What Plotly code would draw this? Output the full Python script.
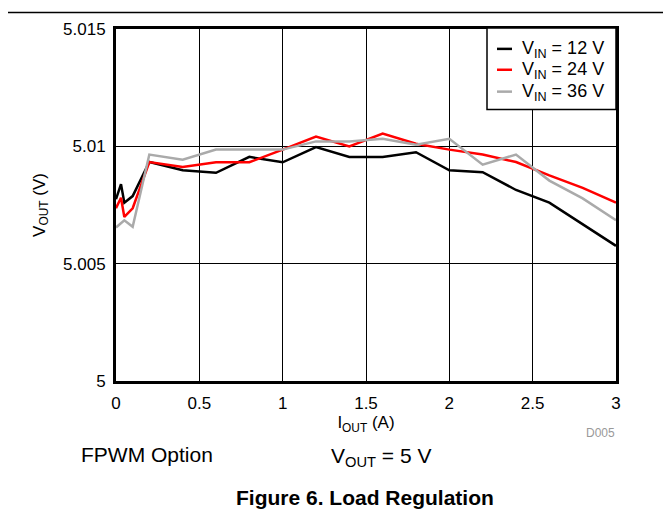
import plotly.graph_objects as go

iout_12 = [0, 0.03, 0.05, 0.1, 0.2, 0.4, 0.6, 0.8, 1.0, 1.2, 1.4, 1.6, 1.8, 2.0, 2.2, 2.4, 2.6, 2.8, 3.0]
vout_12 = [5.00775, 5.00839, 5.0076, 5.00788, 5.00933, 5.00898, 5.00887, 5.00955, 5.00932, 5.00997,
           5.00955, 5.00955, 5.00975, 5.00898, 5.0089, 5.00814, 5.0076, 5.00668, 5.00576]

iout_24 = [0, 0.03, 0.05, 0.1, 0.2, 0.4, 0.6, 0.8, 1.0, 1.2, 1.4, 1.6, 1.8, 2.0, 2.2, 2.4, 2.6, 2.8, 3.0]
vout_24 = [5.00736, 5.00781, 5.00699, 5.00736, 5.00933, 5.00912, 5.00932, 5.00932, 5.00986, 5.01042,
           5.0100, 5.01054, 5.01011, 5.00986, 5.00965, 5.00933, 5.00876, 5.00823, 5.0076]

iout_36 = [0, 0.05, 0.1, 0.2, 0.4, 0.6, 0.8, 1.0, 1.2, 1.4, 1.6, 1.8, 2.0, 2.2, 2.4, 2.6, 2.8, 3.0]
vout_36 = [5.00654, 5.00685, 5.00657, 5.00965, 5.00943, 5.00986, 5.00986, 5.00986, 5.01021, 5.01021,
           5.01032, 5.01007, 5.01032, 5.00922, 5.00965, 5.00854, 5.00778, 5.00685]

x_ticks = [0, 0.5, 1, 1.5, 2, 2.5, 3]
y_ticks = [5, 5.005, 5.01, 5.015]
y_tick_labels = ["5", "5.005", "5.01", "5.015"]

series_names = ["V<sub>IN</sub> = 12 V", "V<sub>IN</sub> = 24 V", "V<sub>IN</sub> = 36 V"]
series_colors = ["#000000", "#ff0000", "#aaaaaa"]
series_x = [iout_12, iout_24, iout_36]
series_y = [vout_12, vout_24, vout_36]

FAM = "Liberation Sans, Arial, sans-serif"
font = dict(family=FAM, color="#000000")

# page offset: the browser body has an 8px margin; plot area spans page x 116..616, y 27..381
def px(X):
    return (X - 116) / 500.0

def py(Y):
    return (381 - Y) / 354.0

fig = go.Figure()
for name, x, y, c in zip(series_names, series_x, series_y, series_colors):
    fig.add_trace(go.Scatter(x=x, y=y, mode="lines", name=name,
                             line=dict(color=c, width=2.5), showlegend=False))

fig.update_layout(
    width=655, height=503,
    margin=dict(l=108, r=47, t=19, b=130),
    paper_bgcolor="white", plot_bgcolor="white",
    font=dict(size=17, **font),
    showlegend=False,
    xaxis=dict(range=[0, 3], tickvals=x_ticks, ticktext=[str(v) for v in x_ticks],
               showgrid=True, gridcolor="#000000", gridwidth=1,
               showline=True, linecolor="#000000", linewidth=3, mirror=True,
               ticks="", zeroline=False, tickfont=dict(size=17, **font),
               ticklabelstandoff=5,
               title=dict(text="I<sub>OUT</sub> (A)", font=dict(size=17, **font), standoff=2)),
    yaxis=dict(range=[5, 5.015], tickvals=y_ticks, ticktext=y_tick_labels,
               showgrid=True, gridcolor="#000000", gridwidth=1,
               showline=True, linecolor="#000000", linewidth=3, mirror=True,
               ticks="", zeroline=False, tickfont=dict(size=17, **font),
               ticklabelstandoff=4,
               title=dict(text="V<sub>OUT</sub> (V)", font=dict(size=17, **font), standoff=14)),
)

# rule at top of page
fig.add_shape(type="line", xref="paper", yref="paper", x0=px(0), x1=px(671),
              y0=py(10.5), y1=py(10.5), line=dict(color="#000000", width=1.5))

# legend box (drawn manually for compact line samples)
fig.add_shape(type="rect", xref="paper", yref="paper", x0=px(487), x1=px(616),
              y0=py(108), y1=py(26), line=dict(color="#000000", width=1.5),
              fillcolor="white", layer="above")
leg_y = [47, 68, 90]
for name, c, Y in zip(series_names, series_colors, leg_y):
    fig.add_shape(type="line", xref="paper", yref="paper", x0=px(497), x1=px(512),
                  y0=py(Y), y1=py(Y), line=dict(color=c, width=2.5), layer="above")
    fig.add_annotation(text=name, xref="paper", yref="paper", x=px(520), y=py(Y + 1),
                       xanchor="left", yanchor="middle", showarrow=False,
                       font=dict(size=18, **font))

fig.add_annotation(text="D005", xref="paper", yref="paper", x=px(600), y=py(433),
                   xanchor="center", yanchor="middle", showarrow=False,
                   font=dict(size=12, color="#999999", family=FAM))
fig.add_annotation(text="FPWM Option", xref="paper", yref="paper", x=px(79), y=py(455),
                   xanchor="left", yanchor="middle", showarrow=False,
                   font=dict(size=21, **font))
fig.add_annotation(text="V<sub>OUT</sub> = 5 V", xref="paper", yref="paper", x=px(329), y=py(457),
                   xanchor="left", yanchor="middle", showarrow=False,
                   font=dict(size=21, **font))
fig.add_annotation(text="<b>Figure 6. Load Regulation</b>", xref="paper", yref="paper",
                   x=px(365), y=py(498),
                   xanchor="center", yanchor="middle", showarrow=False,
                   font=dict(size=21, **font))

fig.write_html("out.html")
